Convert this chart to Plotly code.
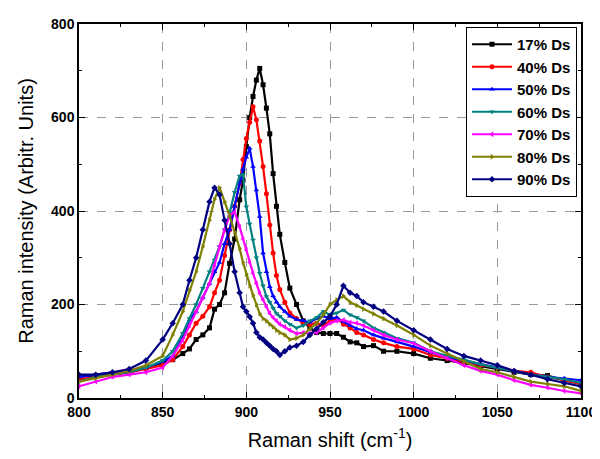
import plotly.graph_objects as go

raman_shift = [800, 810, 820, 830, 840, 850, 856, 862, 866, 870, 874, 878, 881, 884, 887,
               890, 893, 896, 898, 900, 902, 904, 906, 908, 910, 912, 914, 916, 918, 920,
               923, 926, 930, 934, 938, 942, 946, 950, 954, 958, 962, 966, 970, 976, 982,
               990, 1000, 1010, 1020, 1030, 1040, 1050, 1060, 1070, 1080, 1090, 1100]

ds17 = [45, 48, 52, 55, 65, 75, 82, 95, 105, 125, 135, 150, 190, 200, 225,
        288, 340, 424, 466, 538, 600, 645, 680, 705, 670, 620, 565, 480, 410, 350,
        290, 235, 200, 165, 150, 140, 138, 138, 138, 130, 120, 118, 110, 112, 100,
        100, 95, 85, 80, 75, 68, 62, 55, 50, 48, 38, 30]
ds40 = [40, 45, 50, 55, 62, 70, 82, 110, 135, 160, 175, 195, 225, 252, 305,
        360, 410, 459, 510, 555, 590, 623, 595, 550, 495, 437, 370, 310, 262, 232,
        205, 182, 170, 160, 158, 160, 155, 165, 170, 158, 150, 140, 135, 125, 118,
        110, 105, 92, 85, 78, 70, 65, 58, 55, 45, 38, 30]
ds50 = [45, 50, 55, 58, 65, 78, 90, 130, 167, 185, 215, 245, 270, 290, 330,
        360, 410, 460, 490, 515, 534, 495, 445, 388, 310, 270, 238, 218, 205, 195,
        185, 175, 168, 165, 162, 170, 175, 170, 172, 163, 155, 148, 145, 135, 128,
        120, 110, 98, 88, 80, 72, 65, 58, 50, 45, 42, 38]
ds60 = [35, 45, 50, 55, 65, 80, 100, 138, 170, 200, 235, 270, 295, 324, 360,
        395, 440, 475, 478, 409, 372, 338, 300, 267, 240, 217, 205, 192, 181, 175,
        165, 158, 150, 155, 165, 172, 185, 178, 182, 188, 178, 172, 165, 150, 140,
        128, 118, 100, 90, 82, 72, 65, 58, 50, 45, 40, 32]
ds70 = [25, 35, 45, 50, 55, 65, 90, 124, 155, 185, 215, 245, 285, 325, 360,
        390, 398, 366, 340, 317, 290, 267, 245, 224, 210, 195, 181, 172, 165, 158,
        152, 145, 138, 140, 138, 140, 150, 160, 165, 167, 162, 160, 155, 145, 135,
        125, 117, 100, 85, 70, 58, 50, 38, 28, 22, 15, 10]
ds80 = [35, 42, 50, 58, 70, 90, 135, 185, 230, 270, 324, 380, 425, 450, 420,
        390, 355, 320, 290, 265, 240, 220, 200, 180, 170, 165, 158, 152, 145, 140,
        135, 125, 128, 135, 148, 160, 178, 200, 210, 218, 205, 198, 190, 180, 170,
        155, 135, 112, 95, 78, 62, 55, 45, 35, 30, 25, 15]
ds90 = [50, 50, 55, 62, 80, 125, 160, 200, 252, 300, 360, 420, 450, 435, 380,
        330, 270, 225, 195, 185, 174, 160, 140, 130, 125, 118, 112, 105, 100, 92,
        100, 108, 112, 120, 135, 148, 162, 175, 200, 240, 225, 218, 205, 195, 185,
        165, 145, 125, 105, 90, 80, 70, 58, 50, 40, 32, 25]

series_names = ["17% Ds", "40% Ds", "50% Ds", "60% Ds", "70% Ds", "80% Ds", "90% Ds"]
series_values = [ds17, ds40, ds50, ds60, ds70, ds80, ds90]
colors = ["#000000", "#FF0000", "#0000FF", "#008080", "#FF00FF", "#808000", "#000080"]
symbols = ["square", "circle", "triangle-up", "triangle-down", "triangle-left",
           "triangle-right", "diamond"]

fig = go.Figure()
for name, vals, c, s in zip(series_names, series_values, colors, symbols):
    fig.add_trace(go.Scatter(
        x=raman_shift, y=vals, name=name, mode="lines+markers",
        line=dict(color=c, width=2.2),
        marker=dict(color=c, symbol=s, size=5),
    ))

fam = "Liberation Sans, Arial, sans-serif"
tickfont = dict(family=fam, size=14, color="black", weight="bold")
titlefont = dict(family=fam, size=20, color="black")

# the page body adds an 8px offset, so the figure is sized to compensate
fig.update_layout(
    width=592, height=451,
    margin=dict(l=71, r=19, t=16, b=61),
    paper_bgcolor="white", plot_bgcolor="white",
    showlegend=True,
    legend=dict(
        x=0.992, y=0.992, xanchor="right", yanchor="top",
        bgcolor="white", bordercolor="black", borderwidth=1,
        font=dict(family=fam, size=15, color="black", weight="bold"),
        itemwidth=40,
    ),
    xaxis=dict(
        range=[800, 1100], dtick=50, tick0=800, automargin=False,
        ticks="inside", ticklen=6, tickwidth=1, tickcolor="black",
        showline=True, linecolor="black", linewidth=1.5, mirror="ticks",
        showgrid=True, gridcolor="#999999", griddash="dash", gridwidth=1,
        minor=dict(dtick=25, ticks="inside", ticklen=3, tickcolor="black", showgrid=False),
        tickfont=tickfont,
        title=dict(text="Raman shift (cm<sup>-1</sup>)", font=titlefont, standoff=14),
        zeroline=False,
    ),
    yaxis=dict(
        range=[0, 800], dtick=200, tick0=0, automargin=False,
        ticks="inside", ticklen=6, tickwidth=1, tickcolor="black",
        showline=True, linecolor="black", linewidth=1.5, mirror="ticks",
        showgrid=True, gridcolor="#999999", griddash="dash", gridwidth=1,
        minor=dict(dtick=100, ticks="inside", ticklen=3, tickcolor="black", showgrid=False),
        tickfont=tickfont,
        title=dict(text="Raman intensity (Arbitr. Units)", font=titlefont, standoff=12),
        zeroline=False,
    ),
)

fig.write_html("out.html")
